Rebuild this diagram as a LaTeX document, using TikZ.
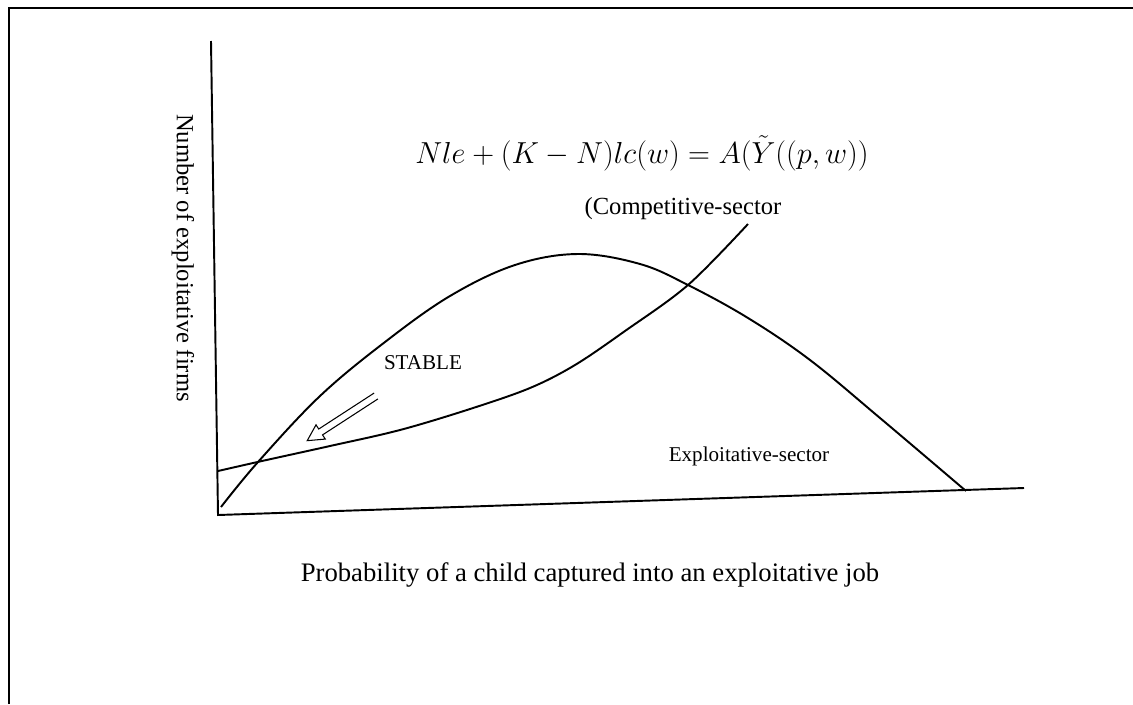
\documentclass[tikz,border=0pt]{standalone}
\usepackage{fontspec}
\setmainfont{Liberation Serif}
\begin{document}
\begin{tikzpicture}[x=0.02cm,y=-0.02cm,
  line/.style={line width=1.1pt},
  lbl/.style={inner sep=0pt, font=\fontsize{12}{14}\selectfont},
  biglbl/.style={inner sep=0pt, font=\fontsize{14}{16}\selectfont}]
\useasboundingbox (0,0) rectangle (1133,704);
% frame
\draw[line width=1.2pt] (9,704) -- (9,8) -- (1133,8);
% axes
\coordinate (ytop) at (211,41);
\coordinate (origin) at (218,515);
\coordinate (xend) at (1024,488);
\draw[line] (ytop) -- (origin) -- (xend);
% hump (exploitative sector)
\draw[line] plot[smooth, tension=0.6] coordinates {(221,507) (258,462) (320,396) (385,342) (450,296) (515,265) (578,254) (640,264) (688,285) (748,318) (810,360) (880,418) (966,491)};
% competitive sector
\draw[line] plot[smooth, tension=0.55] coordinates {(218,471) (262,461) (330,446) (400,430) (470,409) (530,388) (575,365) (625,331) (688,285) (748,224)};
% stability arrow (hollow)
\begin{scope}[shift={(376,396)}, rotate=-147]
  \draw[line width=0.6pt] (0,3.5) -- (66,3.5) -- (66,8.5) -- (82,0) -- (66,-8.5) -- (66,-3.5) -- (0,-3.5);
\end{scope}
% labels
\node[biglbl, rotate=-90] (ylab) at (183,258) {Number of exploitative firms};
\node[inner sep=0pt, font=\fontsize{15.2}{18}\selectfont] (xlab) at (590,575) {Probability of a child captured into an exploitative job};
\node[inner sep=0pt, font=\fontsize{14}{16}\selectfont] (comp) at (683,209) {(Competitive-sector};
\node[lbl] (stable) at (423,363) {STABLE};
\node[lbl] (expl) at (749,456) {Exploitative-sector};
\node[inner sep=0pt, font=\fontsize{16.3}{20}\selectfont] (eq) at (642,153) {$Nle + (K - N)lc(w) = A(\tilde{Y}\Bigl((p,w)\Bigr)$};
\end{tikzpicture}
\end{document}
